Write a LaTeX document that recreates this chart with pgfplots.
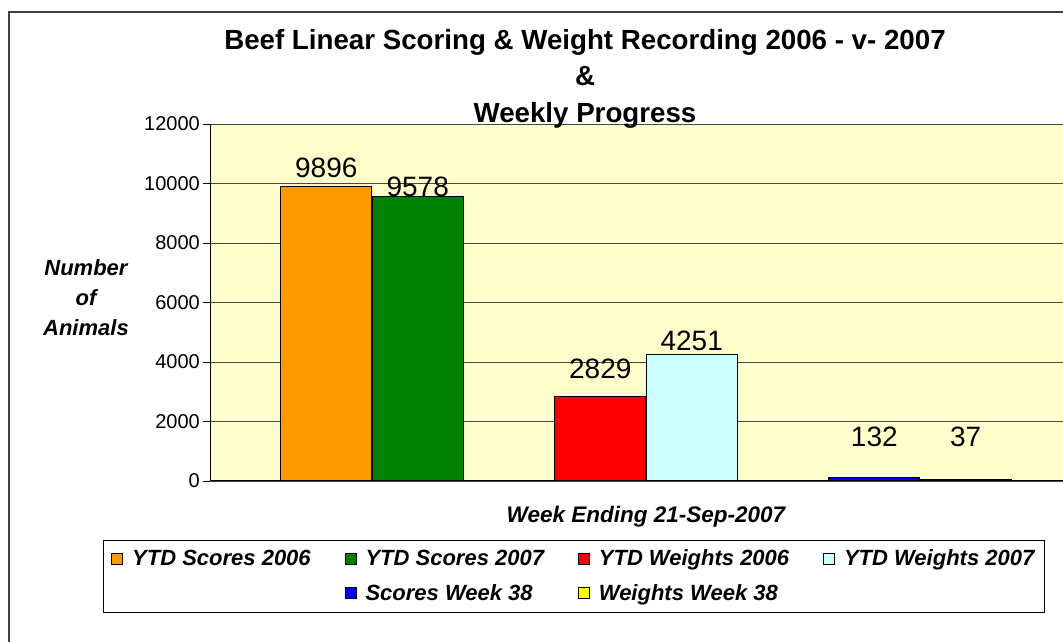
\documentclass[border=0pt]{standalone}
\usepackage{pgfplots}
\pgfplotsset{compat=1.18}
\usepackage{fontspec}
\setmainfont{Liberation Sans}
\definecolor{bgc}{HTML}{FFFFCC}
\definecolor{cOrange}{HTML}{FF9900}
\definecolor{cGreen}{HTML}{008000}
\definecolor{cRed}{HTML}{FF0000}
\definecolor{cCyan}{HTML}{CCFFFF}
\definecolor{cBlue}{HTML}{0000FF}
\definecolor{cYellow}{HTML}{FFFF00}
\pgfplotsset{
  mybar/.style={ybar, bar shift=0pt, bar width=91.3, draw=black, line width=1pt, forget plot,
    nodes near coords,
    every node near coord/.append style={inner sep=0pt, text=black, font=\fontsize{28}{28}\selectfont}},
}
\begin{document}
\begin{tikzpicture}[x=1pt,y=1pt]
\useasboundingbox (0pt,0pt) rectangle (1063pt,642pt);
\draw[line width=2.5pt, color=black!75] (9pt,-5pt) -- (9pt,630pt) -- (1080pt,630pt);
\begin{axis}[
  at={(210pt,161pt)}, anchor=south west,
  scale only axis, width=865pt, height=357pt,
  xmin=210, xmax=1075, ymin=0, ymax=12000,
  axis x line*=bottom, axis y line*=left,
  axis line style={line width=1pt, color=black},
  axis background/.style={fill=bgc},
  xtick=\empty,
  ytick={0,2000,4000,6000,8000,10000,12000},
  scaled y ticks=false,
  /pgf/number format/1000 sep={},
  /pgf/number format/assume math mode=true,
  tick align=outside, major tick length=7pt,
  tick style={line width=0.8pt, color=black},
  ymajorgrids,
  major grid style={line width=0.9pt, color=black!72},
  y tick label style={font=\fontsize{20}{20}\selectfont, inner sep=3pt},
  ylabel={Number\\of\\Animals},
  ylabel style={rotate=-90, at={(axis description cs:-0.1434,0.515)}, anchor=center, align=center,
    font=\bfseries\itshape\fontsize{22}{30}\selectfont},
  xlabel={Week Ending 21-Sep-2007},
  xlabel style={at={(axis description cs:0.504,-0.101)}, anchor=center,
    font=\bfseries\itshape\fontsize{22.5}{22.5}\selectfont},
  legend columns=4,
  legend image code/.code={\draw[#1,draw=black,line width=0.8pt] (0pt,-5.5pt) rectangle (11pt,5.5pt);},
  legend style={at={(axis description cs:-0.1237,-0.266)}, anchor=west,
    draw=black, line width=0.8pt, inner xsep=8pt, inner ysep=8pt,
    font=\bfseries\itshape\fontsize{22}{22}\selectfont,
    /tikz/every even column/.append style={column sep=32pt},
    /tikz/every odd column/.append style={column sep=7pt},
    row sep=13pt},
  legend cell align=left,
]
\addplot[mybar, fill=cOrange, every node near coord/.append style={yshift=8.6pt}] coordinates {(326.3,9896)};
\addplot[mybar, fill=cGreen, every node near coord/.append style={yshift=-1pt}] coordinates {(417.7,9578)};
\addplot[mybar, fill=cRed, every node near coord/.append style={yshift=18pt}] coordinates {(600.3,2829)};
\addplot[mybar, fill=cCyan, every node near coord/.append style={yshift=3pt}] coordinates {(691.7,4251)};
\addplot[mybar, fill=cBlue, every node near coord/.append style={yshift=30pt}] coordinates {(874.3,132)};
\addplot[mybar, fill=cYellow, every node near coord/.append style={yshift=33pt}] coordinates {(965.7,37)};
\addlegendimage{fill=cOrange}\addlegendentry{YTD Scores 2006}
\addlegendimage{fill=cGreen}\addlegendentry{YTD Scores 2007}
\addlegendimage{fill=cRed}\addlegendentry{YTD Weights 2006}
\addlegendimage{fill=cCyan}\addlegendentry{YTD Weights 2007}
\addlegendimage{empty legend}\addlegendentry{\mbox{}}
\addlegendimage{fill=cBlue}\addlegendentry{Scores Week 38}
\addlegendimage{fill=cYellow}\addlegendentry{Weights Week 38}
\end{axis}
\begin{scope}[every node/.style={font=\bfseries\fontsize{27.7}{27.7}\selectfont, anchor=base, inner sep=0pt}]
\node at (585pt,592pt) {Beef Linear Scoring \& Weight Recording 2006 - v- 2007};
\node at (585pt,556pt) {\&};
\node at (585pt,519pt) {Weekly Progress};
\end{scope}
\end{tikzpicture}
\end{document}
